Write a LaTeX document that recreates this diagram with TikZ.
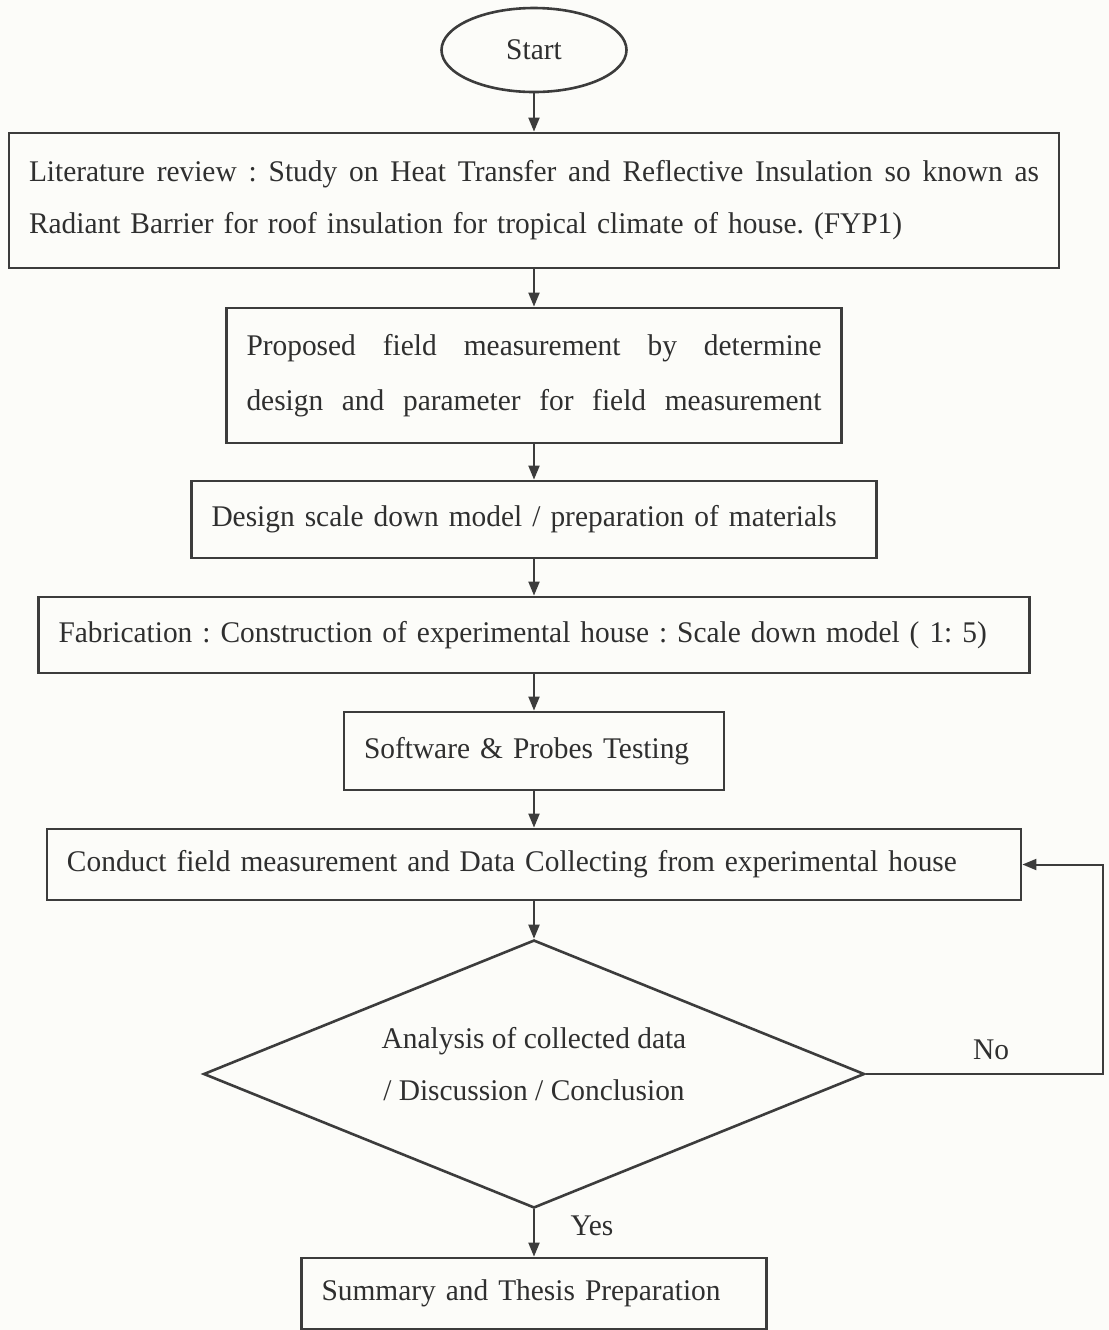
\documentclass[tikz,border=0pt]{standalone}
\usepackage{fontspec}
\setmainfont[FakeStretch=0.98]{Liberation Serif}
\usetikzlibrary{shapes.geometric,arrows.meta}
\definecolor{ink}{HTML}{2F2F2F}
\definecolor{edge}{HTML}{3C3C3C}
\definecolor{paper}{RGB}{252,252,249}
% a line spread to a given width, words separated by \hfill
\newcommand\spreadline[2]{\hbox to #1{#2}}
\begin{document}
\frenchspacing
\begin{tikzpicture}[x=0.5pt,y=-0.5pt,
  every node/.style={text=ink,font=\fontsize{15pt}{26pt}\selectfont},
  stepbox/.style={draw=edge,line width=1.4pt,rectangle,inner xsep=10pt,inner ysep=0pt,align=left},
  flow/.style={draw=edge,line width=1pt,-{Triangle[length=7pt,width=5.5pt]}},
  tag/.style={inner sep=0pt}]
\fill[paper] (0,0) rectangle (1109,1330);
\clip (0,0) rectangle (1109,1330);
\useasboundingbox (0,0) rectangle (1109,1330);

% terminal
\node[ellipse,draw=edge,line width=1.3pt,minimum width=92.5pt,minimum height=42pt,inner sep=0pt] (start) at (534,50) {Start};

% process steps
\node[stepbox,text width=505pt,minimum height=67.5pt] (lit) at (534,200.5)
  {\spreadline{505pt}{Literature\hfill review\hfill :\hfill Study\hfill on\hfill Heat\hfill Transfer\hfill and\hfill Reflective\hfill Insulation\hfill so\hfill known\hfill as}\\
   Radiant Barrier for roof insulation for tropical climate of house. (FYP1)};
\node[stepbox,text width=287.5pt,minimum height=67.5pt,font=\fontsize{15pt}{27.5pt}\selectfont] (prop) at (534,375.5)
  {\spreadline{287.5pt}{Proposed\hfill field\hfill measurement\hfill by\hfill determine}\\
   \spreadline{287.5pt}{design\hfill and\hfill parameter\hfill for\hfill field\hfill measurement}};
\node[stepbox,text width=322.5pt,minimum height=38.5pt] (design) at (534,519.5)
  {Design scale down model / preparation of materials};
\node[stepbox,text width=475.5pt,minimum height=38pt] (fab) at (534,635)
  {Fabrication : Construction of experimental house : Scale down model ( 1: 5)};
\node[stepbox,text width=170pt,minimum height=39pt] (test) at (534,751)
  {Software \& Probes Testing};
\node[stepbox,text width=467pt,minimum height=35.5pt] (meas) at (534,864.5)
  {Conduct field measurement and Data Collecting from experimental house};

% decision
\node[diamond,draw=edge,line width=1.3pt,minimum width=330.5pt,minimum height=134pt,inner sep=0pt] (dec) at (534,1074) {};
\node[tag,align=center] (dectext) at (534,1064)
  {Analysis of collected data\\/ Discussion / Conclusion};

% final step
\node[stepbox,text width=212.5pt,minimum height=35.5pt] (sum) at (534,1293.5)
  {Summary and Thesis Preparation};

% connectors
\draw[flow] (start.south) -- (lit.north);
\draw[flow] (lit.south) -- (prop.north);
\draw[flow] (prop.south) -- (design.north);
\draw[flow] (design.south) -- (fab.north);
\draw[flow] (fab.south) -- (test.north);
\draw[flow] (test.south) -- (meas.north);
\draw[flow] (meas.south) -- (dec.north);
\draw[flow] (dec.south) -- (sum.north);
\coordinate (loop) at (1103,1074);
\draw[flow] (dec.east) -- (loop) |- (meas.east);

% branch labels
\node[tag] (no) at (991,1050) {No};
\node[tag] (yes) at (592,1226) {Yes};
\end{tikzpicture}
\end{document}
